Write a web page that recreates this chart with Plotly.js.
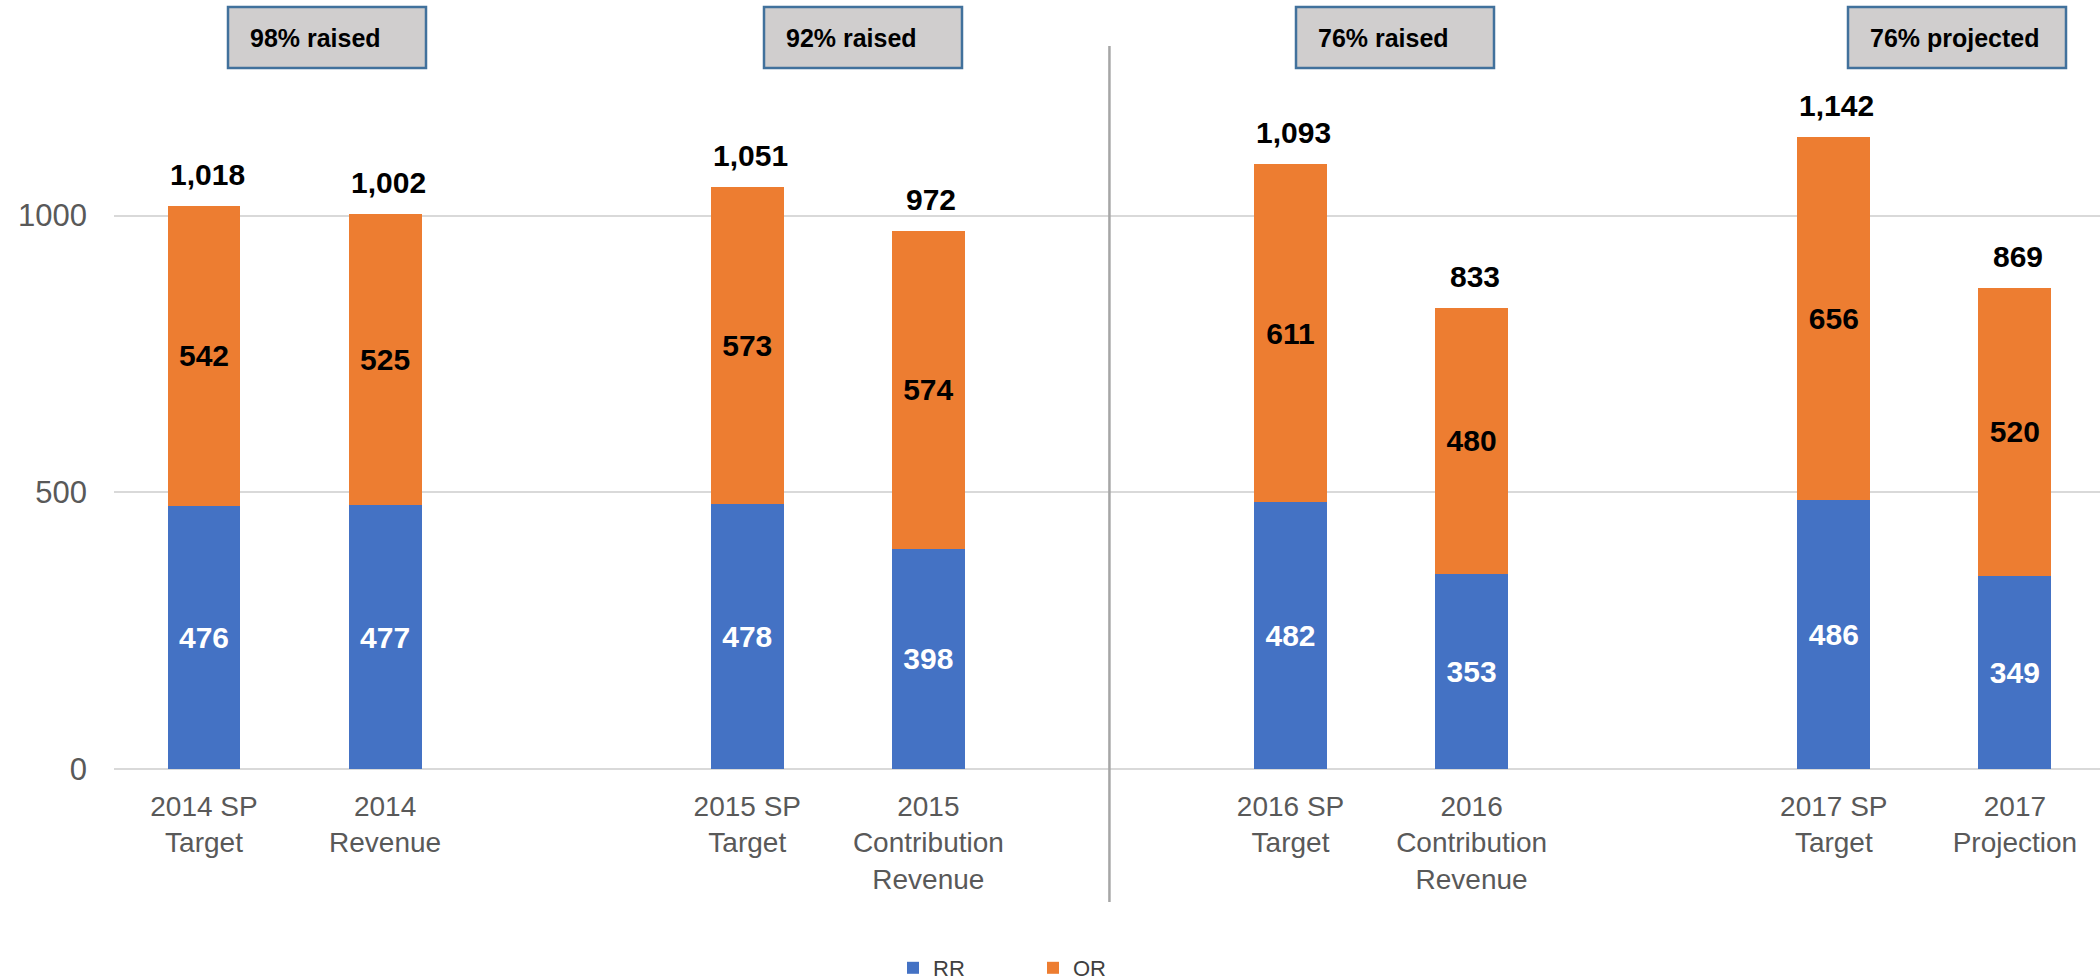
<!DOCTYPE html>
<html>
<head>
<meta charset="utf-8">
<script src="https://cdn.plot.ly/plotly-3.0.1.min.js"></script>
<style>
  html, body { margin: 0; padding: 0; background: #ffffff; }
  #chart { width: 2100px; height: 980px; }
</style>
</head>
<body>
<div id="chart"></div>
<script>
// ---- data ----
const categories = [
  '2014 SP<br>Target',
  '2014<br>Revenue',
  '2015 SP<br>Target',
  '2015<br>Contribution<br>Revenue',
  '2016 SP<br>Target',
  '2016<br>Contribution<br>Revenue',
  '2017 SP<br>Target',
  '2017<br>Projection'
];
const rrValues = [476, 477, 478, 398, 482, 353, 486, 349];
const orValues = [542, 525, 573, 574, 611, 480, 656, 520];
const seriesNames = ['RR', 'OR'];
const boxLabels = ['98% raised', '92% raised', '76% raised', '76% projected'];
const yTicks = [0, 500, 1000];

// ---- layout geometry ----
const W = 2100, Hh = 980;
const M = { l: 114, r: 0, t: 80, b: 211, autoexpand: false };
const plotW = W - M.l - M.r;
const plotH = Hh - M.t - M.b;
const px = v => (v - M.l) / plotW;          // pixel x -> paper
const py = v => 1 - (v - M.t) / plotH;      // pixel y -> paper

// categories in pairs, with an empty slot between pairs
const pos = categories.map((c, i) => i + Math.floor(i / 2));
const totals = rrValues.map((v, i) => v + orValues[i]);

const blue = '#4472C4', orange = '#ED7D31';
const FONT = 'Liberation Sans, Arial, sans-serif';

const traces = [
  {
    type: 'bar', name: seriesNames[0], x: pos, y: rrValues,
    marker: { color: blue, line: { width: 0 } },
    width: 0.403,
    text: rrValues.map(String), texttemplate: '<b>%{text}</b>',
    textposition: 'inside', insidetextanchor: 'middle',
    textfont: { family: FONT, size: 30, color: '#ffffff' },
    hoverinfo: 'skip'
  },
  {
    type: 'bar', name: seriesNames[1], x: pos, y: orValues,
    marker: { color: orange, line: { width: 0 } },
    width: 0.403,
    text: orValues.map(String), texttemplate: '<b>%{text}</b>',
    textposition: 'inside', insidetextanchor: 'middle',
    textfont: { family: FONT, size: 30, color: '#000000' },
    hoverinfo: 'skip'
  }
];

const annotations = totals.map((t, i) => ({
  x: pos[i], y: t, xref: 'x', yref: 'y',
  text: '<b>' + t.toLocaleString('en-US') + '</b>',
  showarrow: false, yanchor: 'bottom', xanchor: 'center', yshift: 13, xshift: 3,
  font: { family: FONT, size: 30, color: '#000000' }
}));

// label boxes above each pair (pixel placement)
const boxLeft = [228, 764, 1296, 1848];
const boxWidth = [198, 198, 198, 218];
const boxTop = 7, boxBottom = 68;
const shapes = [];
boxLabels.forEach((lab, i) => {
  shapes.push({
    type: 'rect', xref: 'paper', yref: 'paper',
    x0: px(boxLeft[i]), x1: px(boxLeft[i] + boxWidth[i]),
    y0: py(boxBottom), y1: py(boxTop),
    fillcolor: '#D0CECE', line: { color: '#41719C', width: 2.5 }, layer: 'above'
  });
  annotations.push({
    xref: 'paper', yref: 'paper',
    x: px(boxLeft[i] + 20), y: py((boxTop + boxBottom) / 2),
    xanchor: 'left', yanchor: 'middle', showarrow: false,
    text: '<b>' + lab + '</b>',
    font: { family: FONT, size: 25, color: '#000000' }
  });
});

// vertical separator between 2015 and 2016 groups
const sepX = (pos[3] + pos[4]) / 2;
shapes.push({
  type: 'line', xref: 'x', yref: 'paper',
  x0: sepX, x1: sepX, y0: py(902), y1: py(46),
  line: { color: '#A6A6A6', width: 2.5 }, layer: 'above'
});

const layout = {
  width: W, height: Hh,
  margin: M,
  paper_bgcolor: '#ffffff', plot_bgcolor: '#ffffff',
  barmode: 'stack',
  showlegend: true,
  legend: {
    orientation: 'h', x: px(893), xanchor: 'left', y: py(968), yanchor: 'middle',
    font: { family: FONT, size: 22, color: '#404040' },
    entrywidth: 95, traceorder: 'normal'
  },
  xaxis: {
    range: [-0.497, 10.47],
    tickmode: 'array', tickvals: pos, ticktext: categories,
    showgrid: false, zeroline: false, showline: false, ticks: '',
    ticklabelstandoff: 18,
    tickfont: { family: FONT, size: 28, color: '#595959' },
    fixedrange: true
  },
  yaxis: {
    range: [0, 1245],
    tickmode: 'array', tickvals: yTicks, ticktext: yTicks.map(String),
    showgrid: true, gridcolor: '#D9D9D9', gridwidth: 2,
    zeroline: true, zerolinecolor: '#D9D9D9', zerolinewidth: 2,
    showline: false, ticks: '',
    ticklabelstandoff: 26,
    tickfont: { family: FONT, size: 31, color: '#595959' },
    fixedrange: true
  },
  shapes: shapes,
  annotations: annotations
};

Plotly.newPlot('chart', traces, layout, { displayModeBar: false, staticPlot: true });
</script>
</body>
</html>
